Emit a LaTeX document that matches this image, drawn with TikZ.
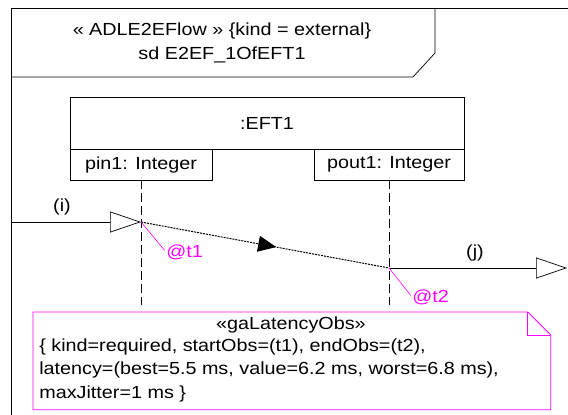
\documentclass[tikz,border=0pt]{standalone}
\usepackage{fontspec}
\setmainfont{Liberation Sans}[FakeStretch=1.13]
\usetikzlibrary{arrows.meta,decorations.markings}
\definecolor{obsmagenta}{RGB}{255,0,255}

\begin{document}
\begin{tikzpicture}[x=1pt,y=-1pt,line width=0.7pt,
  every node/.style={font=\fontsize{17.5}{23.5}\selectfont,inner sep=0pt},
  box/.style={draw,minimum height=31pt},
  life/.style={dash pattern=on 9pt off 4pt},
  flow/.style={-{Triangle[open,length=31pt,width=21pt]}},
  obs/.style={draw=obsmagenta,line width=0.9pt},
  obstext/.style={text=obsmagenta},
  tag/.style={obsmagenta,line width=0.6pt,shorten >=2pt}]
\useasboundingbox (0,0) rectangle (568,415);
\draw (11,415) -- (11,8) -- (568,8);
\draw (11,77) -- (413,77) -- (435,53) -- (435,8);
\node[align=center] (hdr) at (222,43) {« ADLE2EFlow » \{kind = external\}\\sd E2EF\_1OfEFT1};

\node[box,minimum width=394pt,minimum height=52pt] (eft) at (267,123) {:EFT1};
\node[box,minimum width=142pt] (pin) at (141,164.5) {pin1: Integer};
\node[box,minimum width=150pt] (pout) at (389,164.5) {pout1: Integer};

\coordinate (t1) at (141,222);
\coordinate (t2) at (389,268);
\coordinate (pinend) at (141,305);
\coordinate (poutend) at (389,305);
\draw[life] (pin.south) -- (pinend);
\draw[life] (pout.south) -- (poutend);

\coordinate (in) at (11,222);
\coordinate (out) at (567,268);
\draw[flow] (in) -- (t1);
\draw[flow] (t2) -- (out);
\node (i) at (62,207) {(i)};
\node (j) at (475,253) {(j)};

\draw[dash pattern=on 2pt off 1pt,line width=1pt,postaction={decorate},
  decoration={markings,mark=at position 0.545 with {\arrow{Triangle[length=18pt,width=16pt]}}}]
  (t1) -- (t2);

\node[obstext,anchor=west] (at1) at (166,252) {@t1};
\node[obstext,anchor=west] (at2) at (412,297) {@t2};
\draw[tag] (t1) -- (at1.west);
\draw[tag] (t2) -- (at2.west);

\node[anchor=north west,minimum width=517pt,minimum height=97pt] (obs) at (33,312) {};
\draw[obs] (obs.north west) -- ([xshift=-23pt]obs.north east) -- ([yshift=-23pt]obs.north east)
  -- (obs.south east) -- (obs.south west) -- cycle;
\draw[obs] ([xshift=-23pt]obs.north east) -- ++(0,23) -- ([yshift=-23pt]obs.north east);
\node (obstitle) at (291,325) {«gaLatencyObs»};
\node[anchor=north west,align=left] (obsbody) at (39,338) {\{ kind=required, startObs=(t1), endObs=(t2),\\latency=(best=5.5 ms, value=6.2 ms, worst=6.8 ms),\\maxJitter=1 ms \}};
\end{tikzpicture}
\end{document}
